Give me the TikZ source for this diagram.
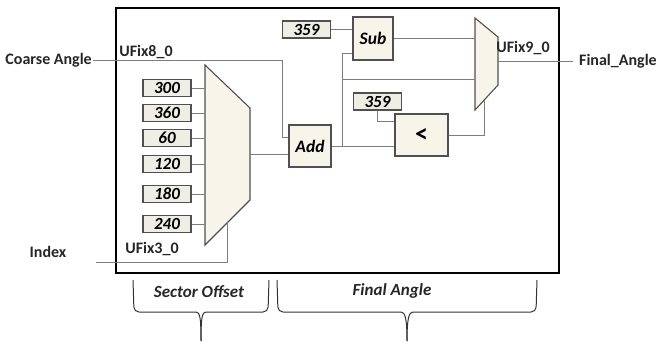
\documentclass[tikz,border=0pt]{standalone}
\usepackage{fontspec}
\setmainfont{Carlito}
\usepackage{tikz}
\usetikzlibrary{positioning, calc}

\definecolor{wiregray}{RGB}{125,125,125}
\definecolor{blockfill}{RGB}{247,245,234}
\definecolor{constfill}{RGB}{238,238,228}
\definecolor{edgegray}{RGB}{80,80,80}

\tikzset{
  wire/.style={draw=wiregray, line width=0.8pt},
  constbox/.style={draw=edgegray, fill=constfill, line width=1.3pt, minimum width=48pt,
    minimum height=17pt, inner sep=0pt, font=\fontsize{17}{18}\selectfont\bfseries\itshape},
  blockbox/.style={draw=edgegray, fill=blockfill, line width=1.3pt, inner sep=0pt,
    font=\fontsize{17.5}{19}\selectfont\bfseries\itshape},
  muxshape/.style={draw=edgegray, fill=blockfill, line width=1.1pt},
  sigtext/.style={font=\fontsize{16}{18}\selectfont\bfseries, text=black!85, inner sep=1pt},
  bracetext/.style={font=\fontsize{17}{19}\selectfont\bfseries\itshape, text=black!85},
  bracket/.style={line width=1pt, black!80, rounded corners=5pt}
}

\begin{document}
\begin{tikzpicture}[x=1pt, y=-1pt]
  \useasboundingbox (0,0) rectangle (658,341);

  % outer subsystem frame
  \draw[line width=1.6pt] (116,8) rectangle (559,273);

  % sector offset constants
  \node[constbox] (k300) at (167,88)  {300};
  \node[constbox] (k360) at (167,113) {360};
  \node[constbox] (k60)  at (167,138) {60};
  \node[constbox] (k120) at (167,164) {120};
  \node[constbox] (k180) at (167,194) {180};
  \node[constbox] (k240) at (167,224) {240};

  % sector multiport switch
  \coordinate (m1l) at (205,0);
  \coordinate (m1out) at (250,154);
  \coordinate (m1sel) at (227,222);
  \draw[muxshape] (205,65) -- (250,108) -- (250,200) -- (205,245) -- cycle;
  \foreach \k in {k300,k360,k60,k120,k180,k240}
    \draw[wire] (\k.east) -- (\k.east -| m1l);

  % blocks of the final angle part
  \node[blockbox, minimum width=42pt, minimum height=42pt] (add) at (310,146) {Add};
  \node[blockbox, minimum width=40pt, minimum height=43pt] (sub) at (373,38.5) {Sub};
  \node[blockbox, minimum width=53pt, minimum height=42pt, font=\fontsize{26}{28}\selectfont\bfseries] (less) at (421.5,135) {<};
  \node[constbox] (k359a) at (306.5,29.5) {359};
  \node[constbox] (k359b) at (377.5,101.5) {359};

  % output switch
  \coordinate (m2l) at (475,0);
  \coordinate (m2out) at (498,61);
  \coordinate (m2ctl) at (484,100);
  \draw[muxshape] (475,18) -- (498,37) -- (498,85) -- (475,110) -- cycle;

  % ports and labels
  \node[sigtext, anchor=east] (coarse) at (93,60) {Coarse Angle};
  \node[sigtext] (index) at (48,252) {Index};
  \coordinate (idxin) at (96,262);
  \node[sigtext, anchor=west] (final) at (578,61) {Final\_Angle};
  \coordinate (finend) at (573,61);
  \node[sigtext] (u8) at (146,52) {UFix8\_0};
  \node[sigtext] (u3) at (152,249) {UFix3\_0};
  \node[sigtext] (u9) at (523,48) {UFix9\_0};

  % wires
  \draw[wire] (coarse.east) -| (282,137) -- ($(add.west)+(0,-9)$);
  \draw[wire] (m1out) -- (m1out -| add.west);
  \draw[wire] (idxin) -| (m1sel);
  \draw[wire] (add.east) -- (add.east -| less.west);
  \coordinate (br) at (342,146);
  \draw[wire] (br) |- ($(sub.west)+(0,14.5)$);
  \draw[wire] (342,79) -- (475,79);
  \draw[wire] (k359a.east) -- (k359a.east -| sub.west);
  \draw[wire] (sub.east) -- (sub.east -| m2l);
  \draw[wire] (k359b.south) |- ($(less.west)+(0,-14)$);
  \draw[wire] (less.east) -| (m2ctl);
  \draw[wire] (m2out) -- (finend);

  % braces below the frame
  \draw[bracket] (133,280) -- (134,312) -- (196,312);
  \draw[bracket] (269,280) -- (268,312) -- (206,312);
  \draw[line width=1pt, black!80] (196,312) .. controls (200,312) and (201,318) .. (201,341);
  \draw[line width=1pt, black!80] (206,312) .. controls (202,312) and (201,318) .. (201,341);
  \node[bracetext] (secoff) at (199,292) {Sector Offset};

  \draw[bracket] (277,280) -- (278,312) -- (401,312);
  \draw[bracket] (537,280) -- (536,312) -- (413,312);
  \draw[line width=1pt, black!80] (401,312) .. controls (405,312) and (407,318) .. (407,341);
  \draw[line width=1pt, black!80] (413,312) .. controls (409,312) and (407,318) .. (407,341);
  \node[bracetext] (finang) at (392,291) {Final Angle};
\end{tikzpicture}
\end{document}
